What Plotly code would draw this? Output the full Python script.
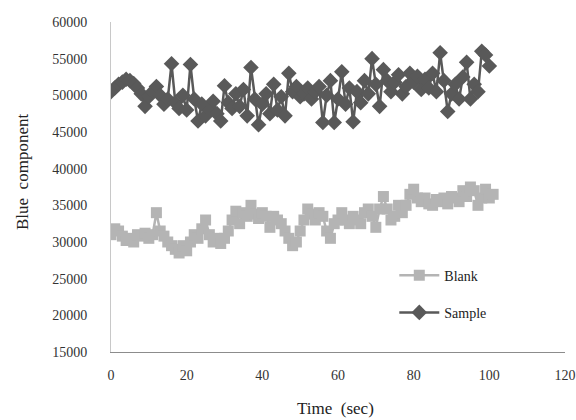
import plotly.graph_objects as go

time_s = list(range(0, 102))

sample = [50500, 51000, 51500, 51800, 52200, 52000, 51600, 51000, 50200, 48500,
          49800, 50500, 51200, 50000, 48800, 49500, 54300, 49000, 48200, 50000,
          48000, 54200, 49500, 46500, 48800, 47200, 48000, 49200, 47500, 46500,
          51300, 49000, 48200, 50200, 48500, 50800, 47200, 53800, 49500, 46000,
          48800, 50200, 47500, 51500, 48000, 49800, 47200, 53000, 50500, 51200,
          49800, 50200, 51000, 49500, 50500, 51200, 46300, 50000, 52000, 46300,
          49500, 53200, 48800, 51000, 46400, 50500, 49000, 52000, 50200, 55000,
          51500, 48500, 53500, 52000, 50500, 51800, 52800, 50200, 51200, 53000,
          51800, 52600, 50800, 52200, 51000, 53000, 50500, 55800, 52000, 47800,
          50200, 51500, 49500, 52500, 54500, 49500, 51500, 50500, 56000, 55500,
          54000]

blank = [31000, 31800, 31500, 30800, 30200, 30500, 30000, 31000, 30800, 31200,
         30500, 31000, 34000, 31500, 30800, 30000, 29500, 29000, 28500, 29500,
         28800, 30000, 31000, 30500, 31800, 33000, 31000, 30000, 30500, 29800,
         30500, 31500, 33000, 34200, 32500, 34000, 33500, 35000, 33800, 33200,
         34000, 33500, 32000, 33500, 33000, 32500, 31500, 30500, 29500, 30000,
         31500, 33000, 34500, 33800, 33000, 34000, 33500, 31500, 30500, 32500,
         33000, 34000, 33000, 32500, 33500, 33000, 32500, 34000, 34500, 33500,
         32000, 34500, 36200, 34500, 33000, 33500, 35000, 34000, 35000, 36500,
         37200, 36000, 35500, 36000, 35200, 35000, 35800, 35500, 36000, 35200,
         36200, 36000, 35500, 37000, 36200, 37500, 37000, 35000, 36000, 37200,
         36000, 36500]

x_ticks = [0, 20, 40, 60, 80, 100, 120]
y_ticks = [15000, 20000, 25000, 30000, 35000, 40000, 45000, 50000, 55000, 60000]
y_tick_labels = [str(v) for v in y_ticks]

serif = "Liberation Serif, Times New Roman, serif"

fig = go.Figure()
fig.add_trace(go.Scatter(
    x=time_s[:len(blank)], y=blank, name="Blank", mode="lines+markers",
    line=dict(color="#b4b4b4", width=2.5),
    marker=dict(symbol="square", size=11, color="#b4b4b4"),
    legendgroup="b",
))
fig.add_trace(go.Scatter(
    x=time_s[:len(sample)], y=sample, name="Sample", mode="lines+markers",
    line=dict(color="#595959", width=2.5),
    marker=dict(symbol="diamond", size=12, color="#595959"),
    legendgroup="s",
))

fig.update_layout(
    width=576, height=420,
    margin=dict(l=111, r=11, t=22, b=68),
    paper_bgcolor="white", plot_bgcolor="white",
    font=dict(family=serif, size=13, color="#333333"),
    showlegend=True,
    legend=dict(x=0.624, y=0.28, xanchor="left", yanchor="top",
                font=dict(family=serif, size=14, color="#222222"),
                tracegroupgap=16, bgcolor="rgba(0,0,0,0)", itemwidth=40),
    annotations=[
        dict(text="Blue  component", xref="paper", yref="paper",
             x=-(111 - 22) / 454, y=(352 - 172) / 330, xanchor="center", yanchor="middle",
             textangle=-90, showarrow=False,
             font=dict(family=serif, size=17, color="#222222")),
        dict(text="Time  (sec)", xref="paper", yref="paper",
             x=(335 - 111) / 454, y=-(408 - 352) / 330, xanchor="center", yanchor="middle",
             showarrow=False,
             font=dict(family=serif, size=17, color="#222222")),
    ],
)
fig.update_xaxes(
    range=[0, 120], tickvals=x_ticks, showgrid=False, zeroline=False,
    showline=True, linecolor="#8c8c8c", linewidth=1, automargin=False,
    ticks="", ticklabelstandoff=10, ticklabeloverflow="allow",
    tickfont=dict(family=serif, size=14, color="#333333"),
)
fig.update_yaxes(
    range=[15000, 60000], tickvals=y_ticks, ticktext=y_tick_labels,
    showgrid=False, zeroline=False, automargin=False,
    showline=True, linecolor="#c8c8c8", linewidth=1,
    ticks="", ticklabelstandoff=20,
    tickfont=dict(family=serif, size=14, color="#333333"),
)

fig.write_html(
    "out.html",
    config={"displayModeBar": False},
    post_script="document.body.style.margin='0';document.body.style.overflow='hidden';",
)
